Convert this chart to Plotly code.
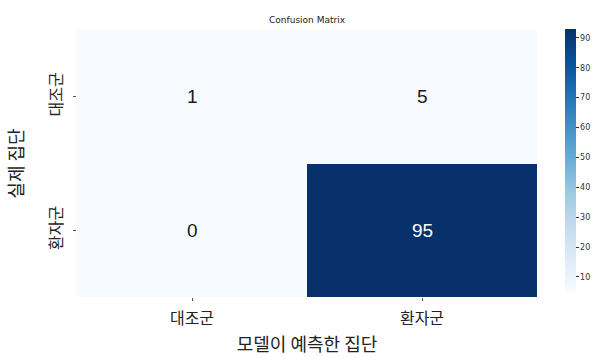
import plotly.graph_objects as go

# Confusion matrix counts: rows = actual group, columns = predicted group
class_labels = ["대조군", "환자군"]
counts = [
    [1, 5],
    [0, 95],
]
cbar_ticks = [10, 20, 30, 40, 50, 60, 70, 80, 90]

KR_FONT = "Noto Sans CJK KR, Noto Sans, sans-serif"

fig = go.Figure(
    go.Heatmap(
        z=counts,
        x=class_labels,
        y=class_labels,
        colorscale="Blues",
        zmin=5,
        zmax=93,
        showscale=True,
        colorbar=dict(
            thickness=11,
            lenmode="pixels",
            len=263,
            yanchor="top",
            y=1.004,
            xanchor="left",
            x=1.061,
            xpad=0,
            ypad=0,
            outlinewidth=0,
            tickvals=cbar_ticks,
            ticks="outside",
            ticklen=3,
            tickcolor="#333333",
            tickfont=dict(family="DejaVu Sans", size=8, color="#333333"),
        ),
    )
)

# cell value labels, white on dark cells
vmax = max(max(r) for r in counts)
for i, row in enumerate(counts):
    for j, v in enumerate(row):
        fig.add_annotation(
            x=class_labels[j],
            y=class_labels[i],
            text=str(v),
            showarrow=False,
            font=dict(
                family="Liberation Sans, Arial, sans-serif",
                size=19,
                color="white" if v > vmax / 2 else "#1a1a1a",
            ),
        )

fig.update_layout(
    width=598,
    height=356,
    margin=dict(l=77, r=61, t=30, b=59, autoexpand=False),
    paper_bgcolor="white",
    plot_bgcolor="white",
    title=dict(
        text="Confusion Matrix",
        x=0.5,
        xref="paper",
        y=0.945,
        yanchor="middle",
        font=dict(family="DejaVu Sans", size=9, color="#222222"),
    ),
    xaxis=dict(
        title=dict(
            text="모델이 예측한 집단",
            font=dict(family=KR_FONT, size=18, color="#222222"),
            standoff=12,
        ),
        tickfont=dict(family=KR_FONT, size=16, color="#222222"),
        ticklabelstandoff=4,
        ticks="outside",
        ticklen=3,
        tickcolor="#555555",
        showgrid=False,
        zeroline=False,
        showline=False,
        automargin=False,
    ),
    yaxis=dict(
        title=dict(
            text="실제 집단",
            font=dict(family=KR_FONT, size=18, color="#222222"),
            standoff=14,
        ),
        tickfont=dict(family=KR_FONT, size=16, color="#222222"),
        tickangle=-90,
        ticklabelstandoff=5,
        autorange="reversed",
        ticks="outside",
        ticklen=3,
        tickcolor="#555555",
        showgrid=False,
        zeroline=False,
        showline=False,
        automargin=False,
    ),
)

fig.write_html("out.html")
